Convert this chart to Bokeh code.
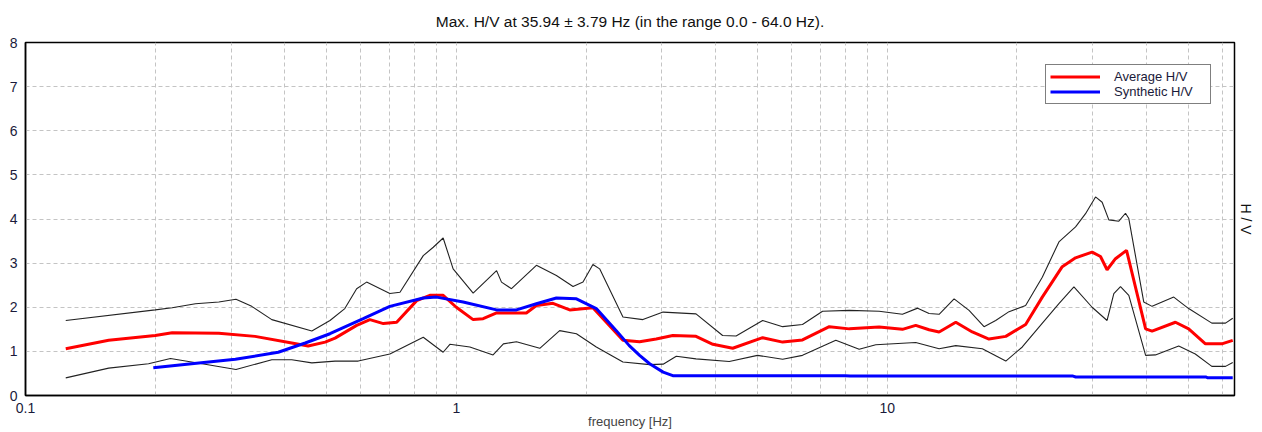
from bokeh.plotting import figure
from bokeh.models import (FixedTicker, LinearAxis, Legend, LegendItem,
                          CustomJSTickFormatter)
from bokeh.embed import file_html
from bokeh.resources import INLINE

TITLE = "Max. H/V at 35.94 \u00b1 3.79 Hz (in the range 0.0 - 64.0 Hz)."
X_LABEL = "frequency [Hz]"
Y_LABEL = "H / V"
X_MAJOR = [0.1, 1, 10]
X_MINOR = [0.2, 0.3, 0.4, 0.5, 0.6, 0.7, 0.8, 0.9,
           2, 3, 4, 5, 6, 7, 8, 9, 20, 30, 40, 50, 60]
Y_TICKS = [0, 1, 2, 3, 4, 5, 6, 7, 8]

# Average H/V (red)
avg_f = [0.124, 0.156, 0.20, 0.219, 0.281, 0.341, 0.415, 0.453, 0.496, 0.523,
         0.587, 0.630, 0.677, 0.727, 0.809, 0.868, 0.932, 1.0, 1.094, 1.154,
         1.240, 1.454, 1.534, 1.676, 1.833, 2.075, 2.229, 2.436, 2.663, 2.91,
         3.18, 3.60, 3.94, 4.38, 5.14, 5.72, 6.36, 7.34, 8.17, 9.58,
         10.85, 11.65, 12.51, 13.2, 14.43, 15.76, 17.23, 18.85, 20.96, 22.91,
         25.49, 27.37, 29.9, 31.27, 32.39, 33.88, 35.94, 39.8, 41.2, 46.68,
         50.1, 54.8, 59.8, 63.4]
avg_v = [1.06, 1.25, 1.36, 1.42, 1.41, 1.34, 1.19, 1.12, 1.21, 1.30,
         1.59, 1.72, 1.63, 1.66, 2.15, 2.27, 2.27, 2.00, 1.72, 1.74,
         1.87, 1.87, 2.04, 2.09, 1.94, 1.99, 1.66, 1.25, 1.22, 1.28,
         1.36, 1.34, 1.16, 1.07, 1.31, 1.21, 1.26, 1.56, 1.51, 1.55,
         1.50, 1.59, 1.49, 1.44, 1.66, 1.44, 1.28, 1.34, 1.61, 2.23,
         2.92, 3.12, 3.25, 3.15, 2.85, 3.10, 3.29, 1.51, 1.46, 1.66,
         1.51, 1.17, 1.17, 1.25]

# Upper bound (black)
up_f = [0.124, 0.20, 0.219, 0.248, 0.281, 0.308, 0.335, 0.373, 0.462, 0.509,
        0.551, 0.587, 0.619, 0.701, 0.740, 0.838, 0.884, 0.932, 0.983, 1.094,
        1.240, 1.273, 1.343, 1.534, 1.707, 1.866, 1.968, 2.075, 2.151, 2.436,
        2.71, 3.02, 3.60, 4.15, 4.46, 5.14, 5.72, 6.36, 7.08, 8.17,
        9.58, 10.85, 11.77, 12.51, 13.2, 14.30, 15.49, 16.78, 17.86, 19.18,
        20.96, 22.91, 25.04, 27.37, 28.87, 30.45, 31.55, 32.7, 34.49, 35.74,
        36.38, 39.4, 41.2, 46.26, 50.1, 56.7, 61.0, 63.4]
up_v = [1.70, 1.94, 1.99, 2.08, 2.12, 2.18, 2.02, 1.72, 1.46, 1.70,
        1.97, 2.42, 2.57, 2.31, 2.34, 3.17, 3.36, 3.57, 2.87, 2.32,
        2.83, 2.57, 2.42, 2.95, 2.72, 2.47, 2.57, 2.97, 2.87, 1.78,
        1.72, 1.89, 1.85, 1.36, 1.35, 1.70, 1.56, 1.61, 1.91, 1.93,
        1.91, 1.84, 1.98, 1.86, 1.84, 2.19, 1.93, 1.56, 1.70, 1.90,
        2.04, 2.68, 3.48, 3.82, 4.12, 4.50, 4.38, 3.98, 3.95, 4.13,
        4.01, 2.12, 2.02, 2.23, 1.97, 1.64, 1.64, 1.75]

# Lower bound (black)
lo_f = [0.124, 0.156, 0.193, 0.217, 0.257, 0.308, 0.373, 0.415, 0.462, 0.523,
        0.592, 0.701, 0.838, 0.932, 0.966, 1.075, 1.217, 1.286, 1.379, 1.562,
        1.737, 1.900, 2.113, 2.436, 2.81, 3.02, 3.24, 3.60, 4.30, 5.0,
        5.72, 6.36, 7.60, 8.61, 9.41, 11.65, 13.2, 14.43, 16.63, 18.85,
        20.59, 22.51, 25.04, 27.13, 29.9, 32.39, 33.58, 34.8, 36.38, 39.8,
        41.94, 47.5, 51.9, 56.7, 61.0, 63.4]
lo_v = [0.40, 0.62, 0.72, 0.84, 0.72, 0.59, 0.81, 0.81, 0.74, 0.78,
        0.78, 0.94, 1.32, 0.98, 1.16, 1.10, 0.92, 1.17, 1.22, 1.07,
        1.47, 1.40, 1.10, 0.76, 0.70, 0.71, 0.89, 0.83, 0.77, 0.91,
        0.82, 0.91, 1.25, 1.05, 1.15, 1.20, 1.06, 1.13, 1.06, 0.78,
        1.10, 1.55, 2.08, 2.46, 2.00, 1.70, 2.31, 2.47, 2.27, 0.91,
        0.92, 1.12, 0.94, 0.66, 0.66, 0.75]

# Synthetic H/V (blue)
syn_f = [0.198, 0.243, 0.307, 0.386, 0.446, 0.509, 0.608, 0.701, 0.838, 0.90,
         1.037, 1.240, 1.379, 1.534, 1.707, 1.900, 2.113, 2.351, 2.52, 2.663,
         2.81, 3.02, 3.18, 8.0, 8.2, 27.0, 27.4, 55.0, 55.5, 63.4]
syn_v = [0.63, 0.72, 0.82, 0.98, 1.19, 1.40, 1.74, 2.02, 2.21, 2.23,
         2.12, 1.94, 1.94, 2.08, 2.21, 2.19, 1.97, 1.47, 1.13, 0.91,
         0.72, 0.53, 0.45, 0.45, 0.44, 0.44, 0.42, 0.42, 0.40, 0.40]

FONT = "Liberation Sans"

p = figure(width=1262, height=432, x_axis_type="log",
           x_range=(0.1, 64), y_range=(0, 8),
           output_backend="svg", toolbar_location=None,
           min_border_left=25, min_border_right=28,
           min_border_top=42, min_border_bottom=37)
p.background_fill_color = "white"
p.border_fill_color = "white"
p.outline_line_color = "black"
p.outline_line_width = 1.5

p.title.text = TITLE
p.title.align = "center"
p.title.vertical_align = "top"
p.title.text_font = FONT
p.title.text_font_size = "15.5px"
p.title.text_font_style = "normal"
p.title.text_color = "#111111"
p.title.standoff = 22

# axes
xa = p.xaxis[0]
xa.ticker = FixedTicker(ticks=X_MAJOR, minor_ticks=X_MINOR)
xa.formatter = CustomJSTickFormatter(code="return tick.toString();")
xa.axis_label = X_LABEL
xa.axis_label_text_font = FONT
xa.axis_label_text_font_size = "13px"
xa.axis_label_text_font_style = "normal"
xa.axis_label_standoff = -2
xa.major_label_text_font = FONT
xa.major_label_text_font_size = "14px"
xa.major_label_text_color = "#1a1a3a"
xa.major_label_standoff = 1
xa.major_tick_line_color = None
xa.minor_tick_line_color = None
xa.axis_line_color = "black"
xa.axis_line_width = 1.5

ya = p.yaxis[0]
ya.ticker = FixedTicker(ticks=Y_TICKS)
ya.major_label_text_font = FONT
ya.major_label_text_font_size = "14px"
ya.major_label_text_color = "#1a1a3a"
ya.major_label_standoff = 2
ya.major_tick_line_color = None
ya.minor_tick_line_color = None
ya.axis_line_color = "black"
ya.axis_line_width = 1.5

# right-hand "H / V" axis label
ra = LinearAxis(axis_label=Y_LABEL, ticker=FixedTicker(ticks=[]))
ra.axis_label_text_font = FONT
ra.axis_label_text_font_size = "14px"
ra.axis_label_text_font_style = "normal"
ra.axis_label_text_color = "#111111"
ra.axis_label_standoff = 3
ra.major_label_text_color = None
ra.major_tick_line_color = None
ra.minor_tick_line_color = None
ra.axis_line_color = None
p.add_layout(ra, "right")

# grids
for g in (p.xgrid[0], p.ygrid[0]):
    g.grid_line_color = "#c4c4c4"
    g.grid_line_dash = "4 3"
    g.grid_line_width = 1
p.xgrid[0].minor_grid_line_color = "#c4c4c4"
p.xgrid[0].minor_grid_line_dash = "4 3"
p.xgrid[0].minor_grid_line_width = 1

# curves
p.line(up_f, up_v, line_color="#222222", line_width=1.1)
p.line(lo_f, lo_v, line_color="#222222", line_width=1.1)
r_avg = p.line(avg_f, avg_v, line_color="#ff0000", line_width=3)
r_syn = p.line(syn_f, syn_v, line_color="#0000ff", line_width=3)

legend = Legend(items=[LegendItem(label="Average H/V", renderers=[r_avg]),
                       LegendItem(label="Synthetic H/V", renderers=[r_syn])],
                location=(1020, 291))
legend.border_line_color = "black"
legend.border_line_width = 1
legend.background_fill_color = "white"
legend.background_fill_alpha = 1
legend.padding = 4
legend.spacing = 0
legend.margin = 0
legend.label_text_font = FONT
legend.label_text_font_size = "13px"
legend.label_text_color = "#1a1a3a"
legend.label_height = 13
legend.label_width = 92
legend.glyph_height = 13
legend.glyph_width = 50
legend.label_standoff = 14
p.add_layout(legend)

open("out.html", "w").write(file_html(p, INLINE))
